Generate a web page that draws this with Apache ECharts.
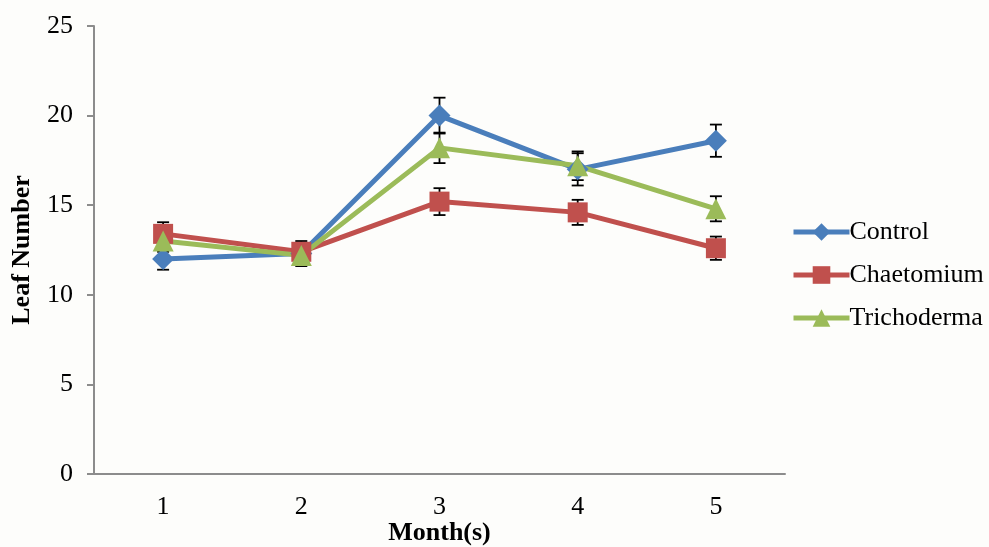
<!DOCTYPE html>
<html>
<head>
<meta charset="utf-8">
<title>Leaf Number</title>
<script src="https://cdn.jsdelivr.net/npm/echarts@6/dist/echarts.min.js"></script>
<style>
  html, body { margin: 0; padding: 0; background: #fdfdfb; }
  #chart { width: 989px; height: 547px; }
</style>
</head>
<body>
<div id="chart"></div>
<script>
// 数据
var months = ['1', '2', '3', '4', '5'];
var control = [12.0, 12.3, 20.0, 17.0, 18.6];
var controlErr = [0.6, 0.6, 1.0, 0.9, 0.9];
var chaetomium = [13.4, 12.4, 15.2, 14.6, 12.6];
var chaetomiumErr = [0.65, 0.6, 0.75, 0.7, 0.65];
var trichoderma = [13.0, 12.2, 18.2, 17.2, 14.8];
var trichodermaErr = [0.6, 0.6, 0.85, 0.8, 0.7];
var yTicks = [0, 5, 10, 15, 20, 25];

var font = '"Liberation Serif", "Times New Roman", serif';

// 误差线数据 [x, low, high]
function errData(vals, errs) {
    var out = [];
    for (var i = 0; i < vals.length; i++) {
        out.push([i, vals[i] - errs[i], vals[i] + errs[i]]);
    }
    return out;
}

function renderErr(params, api) {
    var x = api.value(0);
    var lo = api.coord([x, api.value(1)]);
    var hi = api.coord([x, api.value(2)]);
    var half = 6;
    var style = { stroke: '#000', lineWidth: 1.8 };
    return {
        type: 'group',
        children: [
            { type: 'line', shape: { x1: lo[0], y1: lo[1], x2: hi[0], y2: hi[1] }, style: style },
            { type: 'line', shape: { x1: hi[0] - half, y1: hi[1], x2: hi[0] + half, y2: hi[1] }, style: style },
            { type: 'line', shape: { x1: lo[0] - half, y1: lo[1], x2: lo[0] + half, y2: lo[1] }, style: style }
        ]
    };
}

function lineSeries(name, data, color, symbol, size) {
    return {
        name: name,
        type: 'line',
        data: data,
        symbol: symbol,
        symbolSize: size,
        z: 3,
        lineStyle: { color: color, width: 5 },
        itemStyle: { color: color },
        emphasis: { disabled: true }
    };
}

function errSeries(vals, errs) {
    return {
        type: 'custom',
        renderItem: renderErr,
        data: errData(vals, errs),
        z: 2,
        silent: true
    };
}

var chart = echarts.init(document.getElementById('chart'));
var option = {
    backgroundColor: '#fdfdfb',
    animation: false,
    grid: { left: 94, right: 204, top: 26, bottom: 73, outerBoundsMode: 'none', containLabel: false },
    legend: {
        orient: 'vertical',
        left: 786,
        top: 214,
        itemWidth: 56,
        itemHeight: 22,
        itemGap: 17,
        lineStyle: { width: 5 },
        data: ['Control', 'Chaetomium', 'Trichoderma'],
        textStyle: { fontFamily: font, fontSize: 26, color: '#000', padding: [0, 0, 0, -5] }
    },
    xAxis: {
        type: 'category',
        data: months,
        name: 'Month(s)',
        nameLocation: 'middle',
        nameGap: 46,
        nameMoveOverlap: false,
        nameTextStyle: { fontFamily: font, fontSize: 26, fontWeight: 'bold', color: '#000' },
        axisLine: { lineStyle: { color: '#8c8c8c', width: 2 } },
        axisTick: { show: false },
        axisLabel: { fontFamily: font, fontSize: 26, color: '#000', margin: 20 }
    },
    yAxis: {
        type: 'value',
        min: yTicks[0],
        max: yTicks[yTicks.length - 1],
        interval: 5,
        name: 'Leaf Number',
        nameLocation: 'middle',
        nameGap: 59,
        nameMoveOverlap: false,
        nameTextStyle: { fontFamily: font, fontSize: 26, fontWeight: 'bold', color: '#000' },
        axisLine: { show: true, lineStyle: { color: '#8c8c8c', width: 2 } },
        axisTick: { show: true, length: 7, lineStyle: { color: '#8c8c8c', width: 2 } },
        splitLine: { show: false },
        axisLabel: { fontFamily: font, fontSize: 26, color: '#000', margin: 21 }
    },
    series: [
        errSeries(control, controlErr),
        errSeries(chaetomium, chaetomiumErr),
        errSeries(trichoderma, trichodermaErr),
        lineSeries('Control', control, '#4a7ebb', 'diamond', 22),
        lineSeries('Chaetomium', chaetomium, '#c0504d', 'rect', 20),
        lineSeries('Trichoderma', trichoderma, '#9bbb59', 'triangle', 21)
    ]
};
chart.setOption(option);
</script>
</body>
</html>
